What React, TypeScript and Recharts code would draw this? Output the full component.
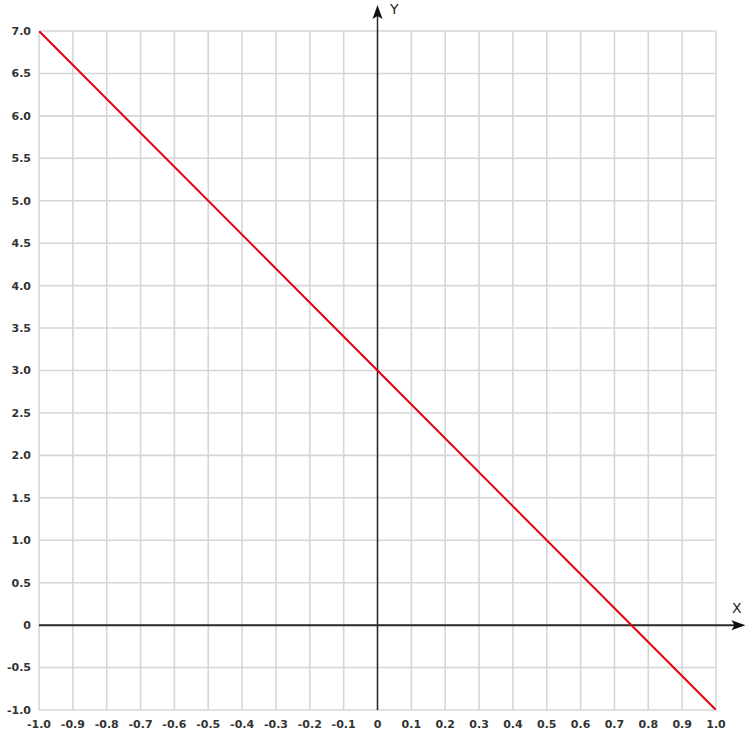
import React from "react";
import {
  LineChart,
  Line,
  XAxis,
  YAxis,
  CartesianGrid,
  ReferenceLine,
  ReferenceDot,
} from "recharts";

// points
const xValues = [-1, 0, 1];
const yValues = [7, 3, -1];

const xTicks = [-1, -0.9, -0.8, -0.7, -0.6, -0.5, -0.4, -0.3, -0.2, -0.1, 0, 0.1, 0.2, 0.3, 0.4, 0.5, 0.6, 0.7, 0.8, 0.9, 1];
const yTicks = [-1, -0.5, 0, 0.5, 1, 1.5, 2, 2.5, 3, 3.5, 4, 4.5, 5, 5.5, 6, 6.5, 7];

const data = xValues.map((x, i) => ({ x, y: yValues[i] }));

const fmt = (v: number) => (v === 0 ? "0" : v.toFixed(1));

const tickStyle = {
  fill: "#333",
  fontSize: 11,
  fontWeight: 700,
  fontFamily: "DejaVu Sans, sans-serif",
};

const AXIS = "#2b2b2b";

function ArrowUp(props: any) {
  const { cx, cy } = props;
  return (
    <path
      d={`M${cx},${cy} L${cx + 5},${cy + 14} L${cx},${cy + 11} L${cx - 5},${cy + 14} Z`}
      fill="#111"
    />
  );
}

function ArrowRight(props: any) {
  const { cx, cy } = props;
  return (
    <path
      d={`M${cx},${cy} L${cx - 14},${cy - 5} L${cx - 11},${cy} L${cx - 14},${cy + 5} Z`}
      fill="#111"
    />
  );
}

export default function App() {
  return (
    <div style={{ position: "absolute", left: 0, top: 0, width: 750, height: 737, background: "#fff" }}>
      <LineChart
        width={750}
        height={737}
        data={data}
        margin={{ top: 31, right: 34, left: 0, bottom: 0 }}
      >
        <CartesianGrid stroke="#d6d6d6" strokeWidth={1.6} horizontalValues={yTicks} verticalValues={xTicks} />
        <XAxis
          type="number"
          dataKey="x"
          domain={[-1, 1]}
          ticks={xTicks}
          tickFormatter={fmt}
          axisLine={false}
          tickLine={false}
          tickSize={8}
          tick={tickStyle}
          height={27}
          interval={0}
          allowDataOverflow
        />
        <YAxis
          type="number"
          domain={[-1, 7]}
          ticks={yTicks}
          tickFormatter={fmt}
          axisLine={false}
          tickLine={false}
          tick={tickStyle}
          width={39}
          interval={0}
          allowDataOverflow
        />
        <ReferenceLine
          segment={[{ x: -1, y: 0 }, { x: 1.075, y: 0 }]}
          stroke={AXIS}
          strokeWidth={2}
          ifOverflow="visible"
        />
        <ReferenceLine
          segment={[{ x: 0, y: -1 }, { x: 0, y: 7.2 }]}
          stroke={AXIS}
          strokeWidth={1.5}
          ifOverflow="visible"
        />
        <ReferenceDot x={1.087} y={0} ifOverflow="visible" shape={ArrowRight} />
        <ReferenceDot x={0} y={7.305} ifOverflow="visible" shape={ArrowUp} />
        <Line
          type="linear"
          dataKey="y"
          stroke="#e3000b"
          strokeWidth={2}
          dot={false}
          isAnimationActive={false}
        />
      </LineChart>
      <span
        style={{
          position: "absolute",
          left: 390,
          top: 1,
          fontFamily: "DejaVu Sans, sans-serif",
          fontSize: 14,
          color: "#222",
        }}
      >
        Y
      </span>
      <span
        style={{
          position: "absolute",
          left: 732,
          top: 600,
          fontFamily: "DejaVu Sans, sans-serif",
          fontSize: 14,
          color: "#222",
        }}
      >
        X
      </span>
    </div>
  );
}
